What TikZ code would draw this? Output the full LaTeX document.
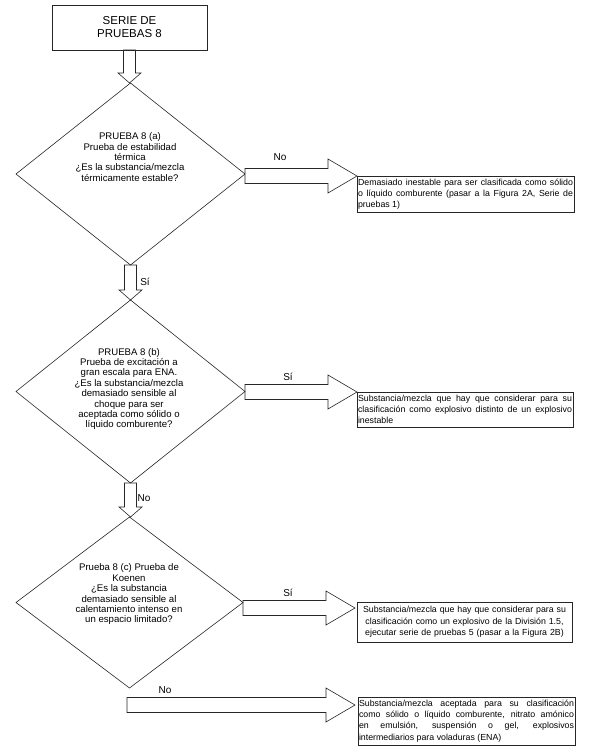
\documentclass[tikz,border=0pt]{standalone}
\usepackage{fontspec}
\setmainfont{Liberation Sans}
\usetikzlibrary{shapes.geometric,calc}
\hyphenpenalty=10000
\tolerance=10000

\tikzset{
  blockline/.style={draw=black!85, line width=0.6pt},
  titlebox/.style={draw=black!85, line width=0.7pt, minimum width=155pt, minimum height=45pt, outer sep=0pt, align=center, font=\fontsize{11.5}{13}\selectfont},
  question/.style={diamond, draw=black!85, line width=0.6pt, inner sep=0pt, outer sep=0pt},
  qtext/.style={align=center, inner sep=0pt, font=\fontsize{9.6}{10.4}\selectfont},
  result/.style={draw=black!85, line width=0.7pt, anchor=north west, inner sep=1pt, outer sep=0pt, align=justify, font=\fontsize{8.8}{11.3}\selectfont},
  answer/.style={inner sep=0pt, font=\fontsize{10}{11}\selectfont},
}

% block arrow pointing down, from #1 to #2
\newcommand{\vblock}[2]{\draw[blockline] let \p1=(#1), \p2=(#2) in
  (\x1-6pt,\y1) -- (\x1-6pt,\y2+10pt) -- (\x1-11.5pt,\y2+10pt) -- (\x1,\y2)
  -- (\x1+11.5pt,\y2+10pt) -- (\x1+6pt,\y2+10pt) -- (\x1+6pt,\y1) -- cycle;}
% block arrow pointing right, from #1 to #2
\newcommand{\hblock}[2]{\draw[blockline] let \p1=(#1), \p2=(#2) in
  (\x1,\y2+7.5pt) -- (\x2-29pt,\y2+7.5pt) -- (\x2-29pt,\y2+17pt) -- (\x2,\y2)
  -- (\x2-29pt,\y2-17pt) -- (\x2-29pt,\y2-7.5pt) -- (\x1,\y2-7.5pt) -- cycle;}

\begin{document}
\begin{tikzpicture}[x=1pt,y=-1pt]
  \useasboundingbox (0,0) rectangle (589,752);

  \node[titlebox] (serie) at (129.5,27.5) {SERIE DE\\PRUEBAS 8};

  % the three tests
  \node[question, minimum width=229pt, minimum height=182pt] (q1) at (130.5,174) {};
  \node[qtext] (t1) at (130,157) {PRUEBA 8 (a)\\Prueba de estabilidad\\térmica\\¿Es la substancia/mezcla\\térmicamente estable?};
  \node[question, minimum width=229pt, minimum height=183pt] (q2) at (130.5,391.5) {};
  \node[qtext] (t2) at (129,389) {PRUEBA 8 (b)\\Prueba de excitación a\\gran escala para ENA.\\¿Es la substancia/mezcla\\demasiado sensible al\\choque para ser\\aceptada como sólido o\\líquido comburente?};
  \node[question, minimum width=227pt, minimum height=171pt] (q3) at (129.5,602.5) {};
  \node[qtext] (t3) at (129,594.5) {Prueba 8 (c) Prueba de\\Koenen\\¿Es la substancia\\demasiado sensible al\\calentamiento intenso en\\un espacio limitado?};

  % outcomes
  \node[result, text width=215pt, minimum height=36pt] (r1) at (357,176) {Demasiado inestable para ser clasificada como sólido\linebreak o líquido comburente (pasar a la Figura 2A, Serie de\linebreak pruebas 1)};
  \node[result, text width=214pt, minimum height=35pt] (r2) at (357,392) {Substancia/mezcla que hay que considerar para su\linebreak clasificación como explosivo distinto de un explosivo\linebreak inestable};
  \node[result, text width=213pt, minimum height=40pt, align=center] (r3) at (357,602) {Substancia/mezcla que hay que considerar para su\\clasificación como un explosivo de la División 1.5,\\ejecutar serie de pruebas 5 (pasar a la Figura 2B)};
  \node[result, text width=215pt, minimum height=48pt] (r4) at (358,697) {Substancia/mezcla aceptada para su clasificación\linebreak como sólido o líquido comburente, nitrato amónico\linebreak en emulsión, suspensión o gel, explosivos\linebreak intermediarios para voladuras (ENA)};

  \coordinate (tip3) at ($(r3.north west)+(-2,6)$);
  \coordinate (c4) at (127,705);
  \coordinate (tip4) at ($(r4.north west)+(-3,8)$);

  % arrows
  \vblock{serie.south}{q1.north}
  \vblock{q1.south}{q2.north}
  \vblock{q2.south}{q3.north}
  \hblock{q1.east}{r1.north west}
  \hblock{q2.east}{r2.north west}
  \hblock{q3.east}{tip3}
  \hblock{c4}{tip4}

  % answers
  \node[answer] (a1) at (280,157) {No};
  \node[answer] (a2) at (145,282) {Sí};
  \node[answer] (a3) at (288,377) {Sí};
  \node[answer] (a4) at (144,498) {No};
  \node[answer] (a5) at (288,593) {Sí};
  \node[answer] (a6) at (165,690) {No};
\end{tikzpicture}
\end{document}
